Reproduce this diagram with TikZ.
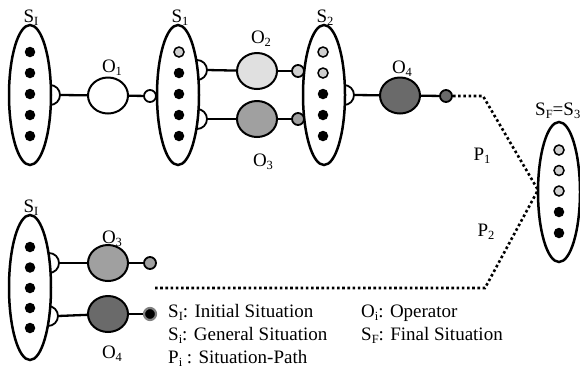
\documentclass[tikz,border=0pt]{standalone}
\usepackage{fontspec}
\setmainfont{Liberation Serif}
\usetikzlibrary{shapes.geometric}
\newcommand\sbs[1]{\raisebox{-0.2em}{\fontsize{12.5}{12.5}\selectfont #1}}
\definecolor{lgray}{HTML}{E0E0E0}
\definecolor{mgray}{HTML}{A0A0A0}
\definecolor{dgray}{HTML}{6A6A6A}
\definecolor{tgray}{HTML}{D0D0D0}
\tikzset{
  sit/.style={ellipse,draw,line width=2.5pt,fill=white,minimum width=42pt,minimum height=140pt,inner sep=0pt},
  opnode/.style={ellipse,draw,line width=2pt,minimum width=40pt,minimum height=36pt,inner sep=0pt},
  bdot/.style={circle,fill=black,minimum size=10.5pt,inner sep=0pt},
  gdot/.style={circle,draw,line width=1.5pt,fill=tgray,minimum size=10pt,inner sep=0pt},
  term/.style={circle,draw,line width=1.8pt,minimum size=12pt,inner sep=0pt},
  conn/.style={line width=2.3pt},
  sock/.style={line width=1.8pt,fill=white},
  pathline/.style={line width=2.6pt,dash pattern=on 2.6pt off 2.6pt},
  lbl/.style={anchor=base,inner sep=0pt,font=\fontsize{19}{22}\selectfont},
  legend/.style={anchor=base west,inner sep=0pt,font=\fontsize{19}{22}\selectfont}
}
\begin{document}
\begin{tikzpicture}[x=1pt,y=-1pt]
\useasboundingbox (0,0) rectangle (580,368);
% ---------- sockets (drawn first, ellipses on top)
\draw[sock] (50,85) arc[start angle=-90,end angle=90,radius=10];
\draw[sock] (197,60) arc[start angle=-90,end angle=90,radius=10];
\draw[sock] (197,109) arc[start angle=-90,end angle=90,radius=10];
\draw[sock] (344,85) arc[start angle=-90,end angle=90,radius=10];
\draw[sock] (49,253) arc[start angle=-90,end angle=90,radius=10];
\draw[sock] (48,306) arc[start angle=-90,end angle=90,radius=10];
\coordinate (kA) at (60,95);
\coordinate (kB) at (207,70);
\coordinate (kC) at (207,119);
\coordinate (kD) at (354,95);
\coordinate (kE) at (59,263);
\coordinate (kF) at (58,316);
% ---------- situations
\node[sit] (SIa) at (30,95) {};
\node[sit] (S1) at (178,95) {};
\node[sit] (S2) at (324,95) {};
\node[sit] (SF) at (559,192) {};
\node[sit,minimum height=145pt] (SIb) at (30,287.5) {};
% dots
\foreach \y [count=\i] in {52,73,94,115,136}{
  \node[bdot] (a\i) at (30,\y) {};
}
\node[gdot] (b1) at (179,52) {};
\foreach \y [count=\i from 2] in {73,94,115,136}{
  \node[bdot] (b\i) at (179,\y) {};
}
\node[gdot] (c1) at (323,52) {};
\node[gdot] (c2) at (323,73) {};
\foreach \y [count=\i from 3] in {94,115,136}{
  \node[bdot] (c\i) at (323,\y) {};
}
\node[gdot] (f1) at (559,150) {};
\node[gdot] (f2) at (559,170.5) {};
\node[gdot] (f3) at (559,191) {};
\node[bdot] (f4) at (559,212) {};
\node[bdot] (f5) at (559,233) {};
\foreach \y [count=\i] in {247,267.5,288,308,328}{
  \node[bdot] (e\i) at (30,\y) {};
}
% ---------- operators
\node[opnode,fill=white] (O1) at (108,95.5) {};
\node[opnode,fill=lgray] (O2) at (257,71) {};
\node[opnode,fill=mgray] (O3) at (257,119) {};
\node[opnode,fill=dgray] (O4) at (400,95.5) {};
\node[opnode,fill=mgray] (O3b) at (108,263) {};
\node[opnode,fill=dgray] (O4b) at (108,314) {};
% ---------- connectors
\draw[conn] (kA) -- (O1);
\draw[conn] (kB) -- (O2);
\draw[conn] (kC) -- (O3);
\draw[conn] (kD) -- (O4);
\draw[conn] (kE) -- (O3b);
\draw[conn] (kF) -- (O4b);
\node[term,fill=white] (t1) at (150,96) {};
\node[term,fill=tgray] (t2) at (298,71) {};
\node[term,fill=mgray] (t3) at (298,119) {};
\node[term,fill=dgray] (t4) at (446,96) {};
\node[term,fill=mgray] (t5) at (150,263) {};
\node[term,fill=black,draw=gray,line width=2.2pt] (t6) at (150,314) {};
\draw[conn] (O1) -- (t1);
\draw[conn] (O2) -- (t2);
\draw[conn] (O3) -- (t3);
\draw[conn] (O4) -- (t4);
\draw[conn] (O3b) -- (t5);
\draw[conn] (O4b) -- (t6);
% ---------- situation paths
\coordinate (p1) at (483,96);
\coordinate (pm) at (538,190);
\coordinate (p2) at (485,288);
\coordinate (p0) at (155,288);
\draw[pathline] (t4.east) -- (p1) -- (pm);
\draw[pathline] (p0) -- (p2) -- (pm);
% ---------- labels
\node[lbl] (lSIa) at (31,22) {S\sbs{I}};
\node[lbl] (lS1) at (180,22) {S\sbs{1}};
\node[lbl] (lS2) at (325,22) {S\sbs{2}};
\node[lbl] (lO1) at (112,72) {O\sbs{1}};
\node[lbl] (lO2) at (261,43) {O\sbs{2}};
\node[lbl] (lO3) at (263,166) {O\sbs{3}};
\node[lbl] (lO4) at (402,73) {O\sbs{4}};
\node[lbl,anchor=base west] (lSF) at (535,115) {S\sbs{F}=S\sbs{3}};
\node[lbl] (lP1) at (482,160) {P\sbs{1}};
\node[lbl] (lP2) at (486,236) {P\sbs{2}};
\node[lbl] (lSIb) at (31,212) {S\sbs{I}};
\node[lbl] (lO3b) at (112,243) {O\sbs{3}};
\node[lbl] (lO4b) at (112,358) {O\sbs{4}};
% ---------- legend
\node[legend] (g1) at (168,317) {S\sbs{I}: Initial Situation};
\node[legend] (g2) at (168,340) {S\sbs{i}: General Situation};
\node[legend] (g3) at (168,363) {P\sbs{i} : Situation-Path};
\node[legend] (g4) at (361,317) {O\sbs{i}: Operator};
\node[legend] (g5) at (361,340) {S\sbs{F}: Final Situation};
\end{tikzpicture}
\end{document}
